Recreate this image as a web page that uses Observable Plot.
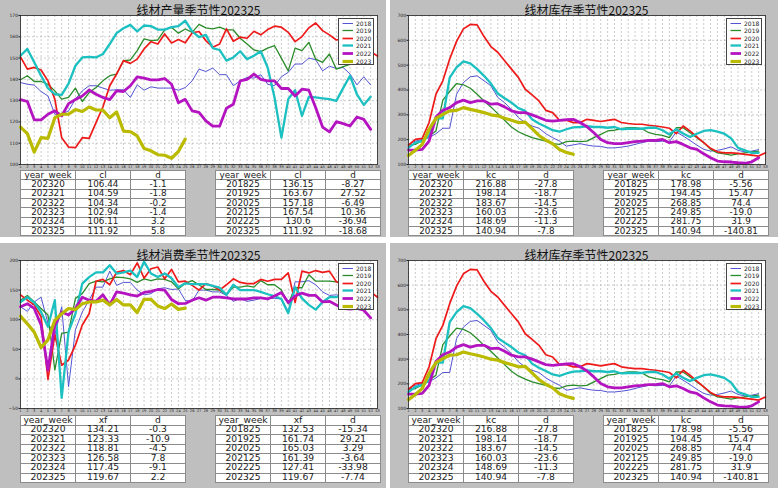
<!DOCTYPE html>
<html><head><meta charset="utf-8">
<script src="https://cdn.jsdelivr.net/npm/d3@7"></script>
<script src="https://cdn.jsdelivr.net/npm/@observablehq/plot@0.6"></script>
<style>
body{margin:0;background:#fff;width:778px;height:488px;position:relative;overflow:hidden;font-family:"DejaVu Sans",sans-serif}
.panel{position:absolute;background:#bfbfbf}
.title{position:absolute;font-family:"Noto Sans CJK SC","DejaVu Sans",sans-serif;font-size:12px;color:#111;transform:translate(-50%,-50%);white-space:nowrap;line-height:1}
.chart{position:absolute}
.legend{position:absolute;background:#fff;border:0.8px solid #444;font-size:6px;box-sizing:border-box;color:#222}
.legend .row{position:absolute;left:0;height:7px;line-height:7px;width:100%}
table{position:absolute;border-collapse:collapse;background:#fff;table-layout:fixed}
td{border:1px solid #8c8c8c;text-align:center;padding:0;color:#222;white-space:nowrap;vertical-align:top}
td span{display:block;position:relative;top:-0.5px}
</style>
</head><body>
<script>
// ---------- data ----------
const weeks = d3.range(1, 54);
const years = ["2018","2019","2020","2021","2022","2023"];
const colors = ["#5454d4","#2a8c2a","#ee1a1a","#1cc0c0","#b414c0","#baba00"];
const widths = [1,1.3,1.7,2.3,2.8,3.2];

// production 线材产量
const cl2018 = [138.5,137.7,137.3,134.3,132.2,123.6,123.6,125.2,130.7,134.6,137,137,135.9,134.9,135.1,135.1,131.5,137.4,134.9,136.5,135.9,135.9,135.9,134.9,136.15,139.3,144.8,143.7,145.3,142.2,142.2,137,139.3,140.9,140.6,142.2,137.7,137,141.2,143.3,147.2,147.2,150,149.2,144,146.2,145.1,145.6,142.5,137.4,141.2,137.4];
const cl2019 = [139.8,141.7,139,139,137.7,134.6,130.7,131.5,135.9,129.6,133.8,136.2,139.3,141.7,142.5,148.8,149.1,153.5,159,158.2,158.5,163.2,164.5,161.7,163.67,162.1,165.8,164.2,163.7,164.5,163.2,163.2,159.3,156.6,153.8,153,154.7,155.8,150,144,154.7,153.5,157.4,149.5,148,151.9,144.8,146,147,150,147.5,152];
const cl2020 = [150.6,144.8,145.6,144.4,139.3,130.7,112.6,108.2,107.9,112.6,112.3,119.7,127,137,142.5,148.8,147.5,149.5,154.3,157.7,156.6,161.3,157.1,158.7,157.18,161.8,162.5,158.2,155.1,156.6,163.7,157.9,159.8,159.3,162.6,160.9,163.4,165,164.5,162.1,157.7,160.1,164.2,166.5,162.9,160.9,158.5,159,161,158,156,153,151];
const cl2021 = [151.1,154.3,148,141.7,135.9,133,132.7,138,146.4,150.3,150.6,150.3,151.9,156.6,161.7,164,165.6,162.5,165.3,165,163.4,163.4,164.5,165,167.54,162.5,159.8,160.9,154.7,153.8,148.8,150.3,153.2,149.5,151.1,153.2,145.6,131.5,112.6,130.7,134.9,122.8,131.8,131.5,131.1,130.7,129.9,135.9,141.7,133,128,131.8];
const cl2022 = [130.5,129.6,121,121,123.6,125.2,122.8,128.6,130.5,132.2,135,133,131.5,130.5,134.6,134.3,137,141.2,140.6,139.8,139.8,140.4,137.7,129,130.6,125.2,124.5,120.5,118,118,126.4,128.3,139.3,140,142.5,140,139.3,139.3,135.7,135.7,132.2,135.4,134.9,126.7,117.6,115.3,120.1,119.2,118.1,122.3,121.2,116.5];
const cl2023 = [117.6,114.5,105.8,112.6,112.3,122,123.6,123.6,125.8,124.9,127,125.6,125.5,122,124.7,115.7,115.4,113.4,107.54,106.44,104.59,104.34,102.94,106.11,111.92];

// inventory 线材库存
const kc2018 = [181,194,201,208,224,246,246,383,430,453,457,437,417,370,349,322,289,269,255,246,224,208,194,174,178.98,184,178,174,173,167,167,170,174,181,188,194,192,194,192,231,215,197,178,161,154,157,163,171,157,151,154,160];
const kc2019 = [178,181,197,215,235,359,394,426,421,407,383,356,332,305,278,251,232,219,208,201,194,184,181,192,194.45,192,194,208,221,235,238,244,248,248,244,228,221,217,208,248,248,228,208,188,161,147,143,138,143,147,151,154];
const kc2020 = [178,201,205,269,383,437,525,596,646,664,662,615,575,552,518,484,451,403,380,356,318,309,278,278,268.85,269,282,278,273,278,282,269,265,262,262,258,255,251,246,224,255,235,211,188,165,151,147,147,145,141,138,134,147];
const kc2021 = [167,188,194,215,286,286,450,491,515,507,484,457,426,386,367,349,327,316,282,265,252,238,232,242,249.85,251,254,251,251,248,251,242,244,244,244,248,248,238,221,242,225,211,224,235,238,232,224,205,167,157,147,147];
const kc2022 = [158,158,161,194,291,318,329,349,359,349,356,356,343,345,332,316,309,309,300,289,278,275,278,281,281.75,269,252,228,201,188,184,184,188,192,194,197,197,201,188,192,181,167,161,143,127,114,111,110,107,105,111,127];
const kc2023 = [136,157,181,242,286,302,316,318,329,322,316,309,300,296,286,278,269,271,244.68,216.88,198.14,183.67,160.03,148.69,140.94];

// consumption 线材消费
const xf2018 = [122,114,130,138,94,74,122,-13,83,113,133,155,155,182,158,163,163,150,142,144,152,154,151,152,132.53,131,150,150,147,147,141,131,136,131,133,136,136,136,135,114,164,164,166,159,147,141,142,140,135,130,125,120];
const xf2019 = [133,141,130,119,108,15,77,79,136,144,161,165,164,169,172,171,169,163,169,166,169,168,164,152,161.74,166,159,151,151,150,142,155,155,157,155,166,159,159,150,127,154,154,176,165,165,165,164,163,160,158,155,150];
const xf2020 = [142,133,125,105,-1,75,23,32,57,91,110,165,168,159,180,183,176,196,170,186,189,169,185,164,165.03,158,150,161,157,150,159,169,163,161,161,168,165,168,168,179,129,182,179,183,180,182,164,160,158,155,150,147,138];
const xf2021 = [130,138,129,113,88,133,-32,80,110,161,172,180,180,192,178,180,183,172,198,178,172,178,170,155,161.39,160,160,160,157,154,142,159,150,150,150,147,143,140,135,111,155,136,125,117,130,138,138,144,146,148,150,152];
const xf2022 = [122,127,119,91,15,91,113,108,119,138,133,131,142,125,147,145,142,140,146,148,151,150,134,127,127.41,133,137,133,138,138,137,135,135,135,137,137,135,140,146,129,140,145,141,141,130,131,125,119,118,119,116,103];
const xf2023 = [106,93,79,53,66,99,110,119,117,127,130,130,133,125,134,125,125,112,134.51,134.21,123.33,118.81,126.58,117.45,119.67];

// tables
const recentWeeks = ["202320","202321","202322","202323","202324","202325"];
const sameWeeks = ["201825","201925","202025","202125","202225","202325"];
const clRecent = ["106.44","104.59","104.34","102.94","106.11","111.92"];
const clRecentD = ["-1.1","-1.8","-0.2","-1.4","3.2","5.8"];
const clSame = ["136.15","163.67","157.18","167.54","130.6","111.92"];
const clSameD = ["-8.27","27.52","-6.49","10.36","-36.94","-18.68"];
const kcRecent = ["216.88","198.14","183.67","160.03","148.69","140.94"];
const kcRecentD = ["-27.8","-18.7","-14.5","-23.6","-11.3","-7.8"];
const kcSame = ["178.98","194.45","268.85","249.85","281.75","140.94"];
const kcSameD = ["-5.56","15.47","74.4","-19.0","31.9","-140.81"];
const xfRecent = ["134.21","123.33","118.81","126.58","117.45","119.67"];
const xfRecentD = ["-0.3","-10.9","-4.5","7.8","-9.1","2.2"];
const xfSame = ["132.53","161.74","165.03","161.39","127.41","119.67"];
const xfSameD = ["-15.34","29.21","3.29","-3.64","-33.98","-7.74"];

const yticksCl = [100,110,120,130,140,150,160,170];
const yticksKc = [100,200,300,400,500,600,700];
const yticksXf = [-50,0,50,100,150,200];

// ---------- layout ----------
const panels = [
  {title:"线材产量季节性202325", col:"cl", series:[cl2018,cl2019,cl2020,cl2021,cl2022,cl2023], yt:yticksCl,
   t1:[recentWeeks,clRecent,clRecentD], t2:[sameWeeks,clSame,clSameD],
   box:[0,0,386,237], fr:[20,377,15,164], tabY:170, rowH:9.35, fs:8.8, tabX:[20,215]},
  {title:"线材库存季节性202325", col:"kc", series:[kc2018,kc2019,kc2020,kc2021,kc2022,kc2023], yt:yticksKc,
   t1:[recentWeeks,kcRecent,kcRecentD], t2:[sameWeeks,kcSame,kcSameD],
   box:[390,0,388,237], fr:[408,765,15,164], tabY:170, rowH:9.35, fs:8.8, tabX:[408,603]},
  {title:"线材消费季节性202325", col:"xf", series:[xf2018,xf2019,xf2020,xf2021,xf2022,xf2023], yt:yticksXf,
   t1:[recentWeeks,xfRecent,xfRecentD], t2:[sameWeeks,xfSame,xfSameD],
   box:[0,243,386,245], fr:[20,377,260,408], tabY:415, rowH:9.6, fs:9.2, tabX:[20,215]},
  {title:"线材库存季节性202325", col:"kc", series:[kc2018,kc2019,kc2020,kc2021,kc2022,kc2023], yt:yticksKc,
   t1:[recentWeeks,kcRecent,kcRecentD], t2:[sameWeeks,kcSame,kcSameD],
   box:[390,243,388,245], fr:[408,765,260,408], tabY:415, rowH:9.6, fs:9.2, tabX:[408,603]}
];

const body = d3.select("body");
const mL = 20, mR = 6, mT = 4, mB = 6;

for (const p of panels) {
  const [bx, by, bw, bh] = p.box;
  body.append("div").attr("class","panel")
    .style("left",bx+"px").style("top",by+"px").style("width",bw+"px").style("height",bh+"px");
  const [fl, frr, ft, fb] = p.fr;
  body.append("div").attr("class","title").text(p.title)
    .style("left",((fl+frr)/2)+"px").style("top",(ft-5)+"px");

  const lineMarks = p.series.map((arr, i) => {
    const rows = arr.map((v, j) => ({week: j + 1, value: v}));
    return Plot.line(rows, {x:"week", y:"value", stroke:colors[i], strokeWidth:widths[i], strokeLinejoin:"round"});
  });
  const chart = Plot.plot({
    width: (frr - fl) + mL + mR,
    height: (fb - ft) + mT + mB,
    marginLeft: mL, marginRight: mR, marginTop: mT, marginBottom: mB,
    style: {background:"transparent", fontFamily:"DejaVu Sans, sans-serif", color:"#222", overflow:"visible"},
    x: {domain:[1,53]},
    y: {domain:[p.yt[0], p.yt[p.yt.length-1]]},
    marks: [
      Plot.frame({fill:"white"}),
      Plot.gridX(weeks, {stroke:"#999", strokeOpacity:0.5, strokeDasharray:"2,2"}),
      Plot.gridY(p.yt, {stroke:"#999", strokeOpacity:0.5, strokeDasharray:"2,2"}),
      ...lineMarks,
      Plot.frame({stroke:"#222", strokeWidth:0.8}),
      Plot.axisX(weeks, {fontSize:3.6, tickSize:0.5, tickPadding:0, label:null}),
      Plot.axisY(p.yt, {fontSize:4.5, tickSize:1.5, tickPadding:1, label:null})
    ]
  });
  d3.select(chart).attr("class","chart").style("position","absolute")
    .style("left",(fl-mL)+"px").style("top",(ft-mT)+"px");
  document.body.appendChild(chart);

  // legend
  const lg = body.append("div").attr("class","legend")
    .style("left",(frr-39)+"px").style("top",(ft+2.5)+"px")
    .style("width","36px").style("height",(6*7.6+1.5)+"px");
  years.forEach((yr, i) => {
    const r = lg.append("div").attr("class","row").style("top",(1+i*7.6)+"px");
    const s = r.append("svg").attr("width",12).attr("height",7)
      .style("position","absolute").style("left","3px").style("top","0px");
    s.append("line").attr("x1",0.5).attr("x2",11).attr("y1",3.5).attr("y2",3.5)
      .attr("stroke",colors[i]).attr("stroke-width",widths[i]);
    r.append("span").text(yr).style("position","absolute").style("left","17px");
  });

  // tables
  const tabH = p.rowH * 7;
  [p.t1, p.t2].forEach((t, k) => {
    const tbl = body.append("table")
      .style("left",p.tabX[k]+"px").style("top",p.tabY+"px")
      .style("width","162px").style("height",tabH+"px").style("font-size",p.fs+"px");
    const hdr = tbl.append("tr").style("height",p.rowH+"px");
    ["year_week", p.col, "d"].forEach(h => hdr.append("td").style("width","54px")
      .append("span").text(h).style("line-height",(p.rowH-1)+"px"));
    for (let r = 0; r < 6; r++) {
      const tr = tbl.append("tr").style("height",p.rowH+"px");
      [t[0][r], t[1][r], t[2][r]].forEach(v => tr.append("td")
        .append("span").text(v).style("line-height",(p.rowH-1)+"px"));
    }
  });
}
</script>
</body></html>
